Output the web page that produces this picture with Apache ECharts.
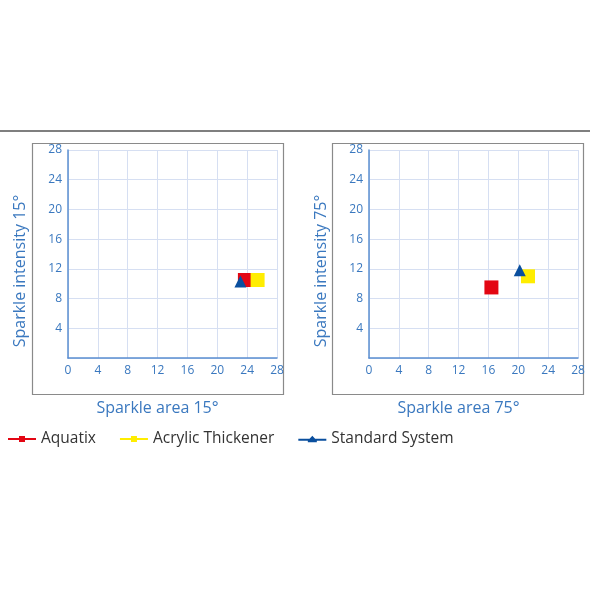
<!DOCTYPE html>
<html><head><meta charset="utf-8">
<script src="https://cdn.jsdelivr.net/npm/echarts@6/dist/echarts.min.js"></script>
<style>html,body{margin:0;padding:0;background:#fff}#c{width:590px;height:590px}</style>
</head><body><div id="c"></div>
<script>
const seriesNames = ['Aquatix', 'Acrylic Thickener', 'Standard System'];
const seriesColors = ['#e30613', '#ffed00', '#0a4f9e'];
const area15 = [23.7, 25.4, 23.1];
const intensity15 = [10.5, 10.5, 10.3];
const area75 = [16.4, 21.3, 20.2];
const intensity75 = [9.5, 11.0, 11.8];
const axisTitlesX = ['Sparkle area 15°', 'Sparkle area 75°'];
const axisTitlesY = ['Sparkle intensity 15°', 'Sparkle intensity 75°'];
const axisMin = 0, axisMax = 28, axisStep = 4;

const FONT = '"Open Sans", "Noto Sans", sans-serif';
const TXT = '#3a78bf';
const chart = echarts.init(document.getElementById('c'));
const grids = [
  {left: 68, top: 150, width: 209, height: 208},
  {left: 369, top: 150, width: 209, height: 208}
];
function xAxis(i){
  return {type:'value', gridIndex:i, min:axisMin, max:axisMax, interval:axisStep,
    name: axisTitlesX[i], nameLocation:'middle', nameGap:42,
    nameTextStyle:{color:TXT, fontSize:16, fontFamily:FONT, padding:[0,30,0,0]},
    axisLine:{show:true, lineStyle:{color:'#5b8fd1', width:1.5}},
    axisTick:{show:false},
    axisLabel:{color:TXT, fontSize:12, fontFamily:FONT, margin:7},
    splitLine:{show:true, lineStyle:{color:'#d6dff2', width:1}}};
}
function yAxis(i){
  return {type:'value', gridIndex:i, min:axisMin, max:axisMax, interval:axisStep,
    name: axisTitlesY[i], nameLocation:'middle', nameGap:40,
    nameTextStyle:{color:TXT, fontSize:16, fontFamily:FONT, padding:[0,34,0,0]},
    axisLine:{show:true, lineStyle:{color:'#5b8fd1', width:1.5}},
    axisTick:{show:false},
    axisLabel:{color:TXT, fontSize:12, fontFamily:FONT, margin:6, showMinLabel:false},
    splitLine:{show:true, lineStyle:{color:'#d6dff2', width:1}}};
}
const symbols = ['rect', 'rect', 'triangle'];
const sizes = [14, 14, 12];
const series = [];
[[area15, intensity15], [area75, intensity75]].forEach(function(d, g){
  seriesNames.forEach(function(n, k){
    series.push({type:'scatter', name:n, xAxisIndex:g, yAxisIndex:g,
      symbol:symbols[k], symbolSize:sizes[k],
      itemStyle:{color:seriesColors[k], opacity:1},
      data:[[d[0][k], d[1][k]]]});
  });
});
const sqIcon = 'path://M0,3.5H11V1.5H17V3.5H28V5.5H17V7.5H11V5.5H0Z';
const triIcon = 'path://M0,4H11.2L14,0.8L16.8,4H28V6H18.5V7.5H9.5V6H0Z';
chart.setOption({
  animation:false,
  backgroundColor:'#fff',
  grid: grids,
  xAxis:[xAxis(0), xAxis(1)],
  yAxis:[yAxis(0), yAxis(1)],
  legend:{left:8, top:431, padding:0, itemWidth:28, itemHeight:9, itemGap:24,
    textStyle:{color:'#333', fontSize:15.5, fontFamily:FONT},
    data:[{name:seriesNames[0], icon:sqIcon},{name:seriesNames[1], icon:sqIcon},{name:seriesNames[2], icon:triIcon}]},
  graphic:[
    {type:'line', shape:{x1:0, y1:131, x2:590, y2:131}, style:{stroke:'#555', lineWidth:1.5}},
    {type:'rect', shape:{x:32.5, y:143.5, width:251, height:251}, style:{fill:null, stroke:'#8a8a8a', lineWidth:1.2}, z:-1},
    {type:'rect', shape:{x:332.5, y:143.5, width:251, height:251}, style:{fill:null, stroke:'#8a8a8a', lineWidth:1.2}, z:-1}
  ],
  series: series
});
</script></body></html>
